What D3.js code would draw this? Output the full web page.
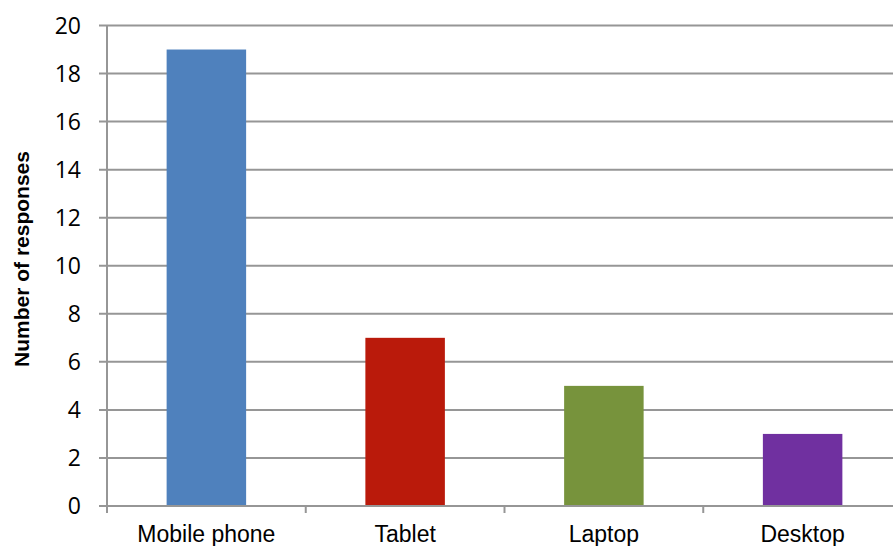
<!DOCTYPE html>
<html><head><meta charset="utf-8">
<script src="https://d3js.org/d3.v7.min.js"></script>
<style>body{margin:0;background:#fff}svg{display:block}</style>
</head><body>
<script>
const categories = ["Mobile phone", "Tablet", "Laptop", "Desktop"];
const values = [19, 7, 5, 3];
const colors = ["#4F81BD", "#BA1A0B", "#77933C", "#7030A0"];
const yTicks = [0, 2, 4, 6, 8, 10, 12, 14, 16, 18, 20];
const yTitle = "Number of responses";

(function () {
const W = 893, H = 546;
const pLeft = 107, pRight = 902, pTop = 25.5, pBottom = 506;
const svg = d3.select("body").append("svg").attr("width", W).attr("height", H);

const x = d3.scaleBand().domain(categories).range([pLeft, pRight]).paddingInner(0.6).paddingOuter(0.3);
const y = d3.scaleLinear().domain([0, 20]).range([pBottom, pTop]);
const grid = "#969696";

svg.append("g").selectAll("line").data(yTicks.filter(d => d > 0)).join("line")
  .attr("x1", pLeft - 8).attr("x2", pRight).attr("y1", d => y(d)).attr("y2", d => y(d))
  .attr("stroke", grid).attr("stroke-width", 2);

svg.append("g").selectAll("rect").data(values).join("rect")
  .attr("x", (d, i) => x(categories[i])).attr("width", x.bandwidth())
  .attr("y", d => y(d)).attr("height", d => y(0) - y(d))
  .attr("fill", (d, i) => colors[i]);

svg.append("line").attr("x1", pLeft - 8).attr("x2", pRight).attr("y1", y(0)).attr("y2", y(0))
  .attr("stroke", grid).attr("stroke-width", 2);
svg.append("line").attr("x1", pLeft).attr("x2", pLeft).attr("y1", pTop).attr("y2", y(0))
  .attr("stroke", grid).attr("stroke-width", 2);

const bounds = d3.range(categories.length + 1).map(i => pLeft + i * (pRight - pLeft) / categories.length);
svg.append("g").selectAll("line").data(bounds).join("line")
  .attr("x1", d => d).attr("x2", d => d).attr("y1", y(0)).attr("y2", y(0) + 7)
  .attr("stroke", grid).attr("stroke-width", 2);

svg.append("g").selectAll("text").data(yTicks).join("text")
  .attr("x", 81).attr("y", d => y(d)).attr("dy", "0.36em")
  .attr("text-anchor", "end").attr("font-family", "Open Sans").attr("font-size", 23)
  .attr("fill", "#000").text(d => d);

svg.append("g").selectAll("text").data(categories).join("text")
  .attr("x", d => x(d) + x.bandwidth() / 2).attr("y", 542)
  .attr("text-anchor", "middle").attr("font-family", "Liberation Sans, Arial").attr("font-size", 23)
  .attr("fill", "#000").text(d => d);

svg.append("text").attr("transform", "translate(29,259) rotate(-90)")
  .attr("text-anchor", "middle").attr("font-family", "Liberation Sans, Arial").attr("font-weight", "bold")
  .attr("font-size", 21).attr("fill", "#000").text(yTitle);
})();
</script>
</body></html>
